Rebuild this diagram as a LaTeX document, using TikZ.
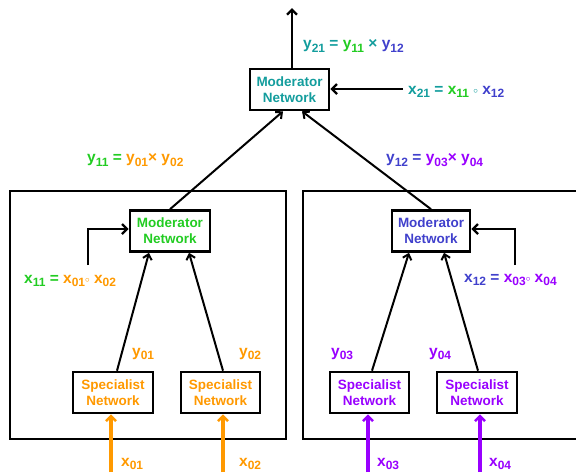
\documentclass[tikz,border=0pt]{standalone}
\usepackage{fontspec}
\setmainfont{Liberation Sans}[BoldFont={Liberation Sans Bold}]
\newfontfamily\bsans{Liberation Sans Bold}
\usetikzlibrary{arrows.meta,calc}
\definecolor{cteal}{HTML}{139D9D}
\definecolor{cgreen}{HTML}{22CC22}
\definecolor{cblue}{HTML}{4040CC}
\definecolor{corange}{HTML}{FF9900}
\definecolor{cpurple}{HTML}{9900FF}
\newcommand{\sbs}[1]{\raisebox{-3.3pt}{\fontsize{12}{12}\selectfont #1}}
\newcommand{\cmp}{\raisebox{1pt}{\fontsize{9}{9}\selectfont$\circ$}}
\begin{document}
\begin{tikzpicture}[x=1pt,y=-1pt,
  netbox/.style={draw,line width=2.6pt,fill=white,inner sep=0pt,align=center,
    font=\bsans\fontsize{13.5}{16}\selectfont},
  lbl/.style={anchor=west,inner sep=0pt,font=\bsans\fontsize{15.5}{16}\selectfont},
  conn/.style={line width=2.8pt,-{Straight Barb[length=5pt,width=10pt,line width=2.4pt]}},
  thin/.style={line width=2pt,-{Straight Barb[length=5pt,width=9pt,line width=2pt]}},
  inarr/.style={line width=3.4pt,-{Straight Barb[length=5pt,width=10pt,line width=2.6pt]}},
  outer/.style={draw,line width=2.6pt}]
\clip (0,0) rectangle (576,472);
\useasboundingbox (0,0) rectangle (576,472);
% outer boxes
\draw[outer] (10,191) rectangle (286,439);
\draw[outer] (303,191) rectangle (590,439);
% nodes
\node[netbox,minimum width=79pt,minimum height=41pt,text=cteal] (topmod) at (289.5,89.5) {Moderator\\Network};
\node[netbox,minimum width=80pt,minimum height=41pt,text=cgreen] (lmod) at (170,231) {Moderator\\Network};
\node[netbox,minimum width=78pt,minimum height=41pt,text=cblue] (rmod) at (431,231) {Moderator\\Network};
\node[netbox,minimum width=80pt,minimum height=41pt,text=corange] (sp1) at (113,392.5) {Specialist\\Network};
\node[netbox,minimum width=79pt,minimum height=41pt,text=corange] (sp2) at (220.5,392.5) {Specialist\\Network};
\node[netbox,minimum width=79pt,minimum height=41pt,text=cpurple] (sp3) at (369.5,392.5) {Specialist\\Network};
\node[netbox,minimum width=80pt,minimum height=41pt,text=cpurple] (sp4) at (477,392.5) {Specialist\\Network};
% coordinates for free ends
\coordinate (topend) at (292,8);
\coordinate (x21s) at (403,89);
\coordinate (x11s) at (88,265);
\coordinate (x12s) at (515,265);
\coordinate (in1) at (111,472);
\coordinate (in2) at (223,472);
\coordinate (in3) at (368,472);
\coordinate (in4) at (480,472);
% connectors
\draw[conn] (topmod.north -| topend) -- (topend);
\draw[conn] (x21s) -- (x21s -| topmod.east);
\draw[thin] (lmod.north) -- ([xshift=-6.5pt]topmod.south);
\draw[thin] (rmod.north) -- ([xshift=12.5pt]topmod.south);
\draw[thin] ([xshift=4pt]sp1.north) -- ([xshift=-21pt]lmod.south);
\draw[thin] ([xshift=2.5pt]sp2.north) -- ([xshift=19pt]lmod.south);
\draw[thin] ([xshift=2.5pt]sp3.north) -- ([xshift=-22pt]rmod.south);
\draw[thin] ([xshift=1pt]sp4.north) -- ([xshift=13pt]rmod.south);
\draw[conn] (x11s) |- ([yshift=2pt]lmod.west);
\draw[conn] (x12s) |- ([yshift=2pt]rmod.east);
\draw[inarr,corange] (in1) -- (in1 |- sp1.south);
\draw[inarr,corange] (in2) -- (in2 |- sp2.south);
\draw[inarr,cpurple] (in3) -- (in3 |- sp3.south);
\draw[inarr,cpurple] (in4) -- (in4 |- sp4.south);
% labels
\node[lbl] (ly21) at (303,46) {\textcolor{cteal}{y\sbs{21} = }\textcolor{cgreen}{y\sbs{11}} \textcolor{cteal}{×} \textcolor{cblue}{y\sbs{12}}};
\node[lbl] (lx21) at (408,92) {\textcolor{cteal}{x\sbs{21} = }\textcolor{cgreen}{x\sbs{11}} \textcolor{cteal}{\cmp} \textcolor{cblue}{x\sbs{12}}};
\node[lbl] (ly11) at (87,160) {\textcolor{cgreen}{y\sbs{11} = }\textcolor{corange}{y\sbs{01}× y\sbs{02}}};
\node[lbl] (ly12) at (386,160) {\textcolor{cblue}{y\sbs{12} = }\textcolor{cpurple}{y\sbs{03}× y\sbs{04}}};
\node[lbl] (lx11) at (24,281) {\textcolor{cgreen}{x\sbs{11} = }\textcolor{corange}{x\sbs{01}\cmp{} x\sbs{02}}};
\node[lbl] (lx12) at (464,280) {\textcolor{cblue}{x\sbs{12} = }\textcolor{cpurple}{x\sbs{03}\cmp{} x\sbs{04}}};
\node[lbl,text=corange] (ly01) at (132,354) {y\sbs{01}};
\node[lbl,text=corange] (ly02) at (239,354) {y\sbs{02}};
\node[lbl,text=cpurple] (ly03) at (331,354) {y\sbs{03}};
\node[lbl,text=cpurple] (ly04) at (429,354) {y\sbs{04}};
\node[lbl,text=corange] (lx01) at (121,464) {x\sbs{01}};
\node[lbl,text=corange] (lx02) at (239,464) {x\sbs{02}};
\node[lbl,text=cpurple] (lx03) at (377,464) {x\sbs{03}};
\node[lbl,text=cpurple] (lx04) at (489,464) {x\sbs{04}};
\end{tikzpicture}
\end{document}
